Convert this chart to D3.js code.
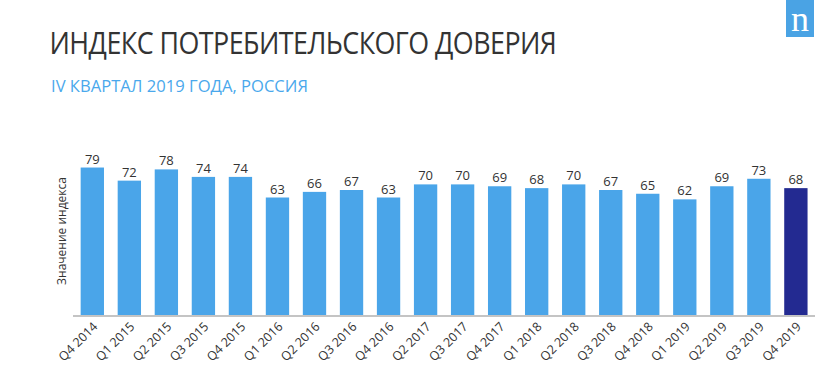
<!DOCTYPE html>
<html>
<head>
<meta charset="utf-8">
<script src="https://cdn.jsdelivr.net/npm/d3@7"></script>
<style>
html,body{margin:0;padding:0;background:#fff;}
svg{display:block;}
</style>
</head>
<body>
<svg id="chart" width="833" height="372"></svg>
<script>
const categories = ["Q4 2014","Q1 2015","Q2 2015","Q3 2015","Q4 2015","Q1 2016","Q2 2016","Q3 2016","Q4 2016","Q2 2017","Q3 2017","Q4 2017","Q1 2018","Q2 2018","Q3 2018","Q4 2018","Q1 2019","Q2 2019","Q3 2019","Q4 2019"];
const values = [79,72,78,74,74,63,66,67,63,70,70,69,68,70,67,65,62,69,73,68];
const highlighted = ["Q4 2019"];
const titleText = "ИНДЕКС ПОТРЕБИТЕЛЬСКОГО ДОВЕРИЯ";
const subtitleText = "IV КВАРТАЛ 2019 ГОДА, РОССИЯ";
const yAxisLabel = "Значение индекса";

const svg = d3.select("#chart");
const font = "'Open Sans', sans-serif";

function condensedText(txt, x0, y0, size, color, targetWidth, spacing) {
  const g = svg.append("g");
  const t = g.append("text").attr("x", 0).attr("y", 0)
    .attr("font-family", font).attr("font-size", size).attr("fill", color)
    .attr("letter-spacing", spacing)
    .text(txt);
  const w = t.node().getComputedTextLength();
  g.attr("transform", `translate(${x0},${y0}) scale(${targetWidth / w},1)`);
}

// Title & subtitle
condensedText(titleText, 49.5, 54.3, 30.5, "#333", 507, -0.6);
condensedText(subtitleText, 51, 91.7, 17, "#4aa8ec", 257, 0);

// Logo
svg.append("rect").attr("x", 786).attr("y", 0).attr("width", 28).attr("height", 37).attr("fill", "#4aa3e4");
svg.append("text").attr("x", 800).attr("y", 31).attr("text-anchor", "middle")
  .attr("font-family", "'Liberation Serif', serif").attr("font-size", 36).attr("fill", "#fff")
  .text("n");

// Scales
const x = d3.scaleBand().domain(categories).range([73.8, 814.4]).paddingInner(0.37).paddingOuter(0.185);
const y = d3.scaleLinear().domain([0, 100]).range([315.5, 128.2]);

// Bars
svg.append("g").selectAll("rect").data(categories).join("rect")
  .attr("x", d => x(d))
  .attr("y", (d, i) => y(values[i]))
  .attr("width", x.bandwidth())
  .attr("height", (d, i) => y(0) - y(values[i]))
  .attr("fill", d => highlighted.includes(d) ? "#232a91" : "#4aa5e9");

// Value labels
svg.append("g").selectAll("text").data(categories).join("text")
  .attr("x", d => x(d) + x.bandwidth() / 2)
  .attr("y", (d, i) => y(values[i]) - 4)
  .attr("text-anchor", "middle")
  .attr("font-family", font).attr("font-size", 13).attr("fill", "#333")
  .text((d, i) => values[i]);

// X axis
const xAxis = svg.append("g").attr("transform", `translate(0,${y(0)})`)
  .call(d3.axisBottom(x).tickSize(0).tickPadding(0));
xAxis.select(".domain").attr("stroke", "#c4c4c4").attr("stroke-width", 2)
  .attr("d", "M73,0.5H815");
xAxis.selectAll(".tick text")
  .attr("font-family", font).attr("font-size", 12.5).attr("fill", "#333")
  .attr("text-anchor", "end")
  .attr("dy", null)
  .attr("transform", "translate(6,12) rotate(-45)");

// Y label
svg.append("text")
  .attr("transform", "translate(65.5,231) rotate(-90)")
  .attr("text-anchor", "middle")
  .attr("font-family", font).attr("font-size", 12).attr("fill", "#333")
  .text(yAxisLabel);
</script>
</body>
</html>
